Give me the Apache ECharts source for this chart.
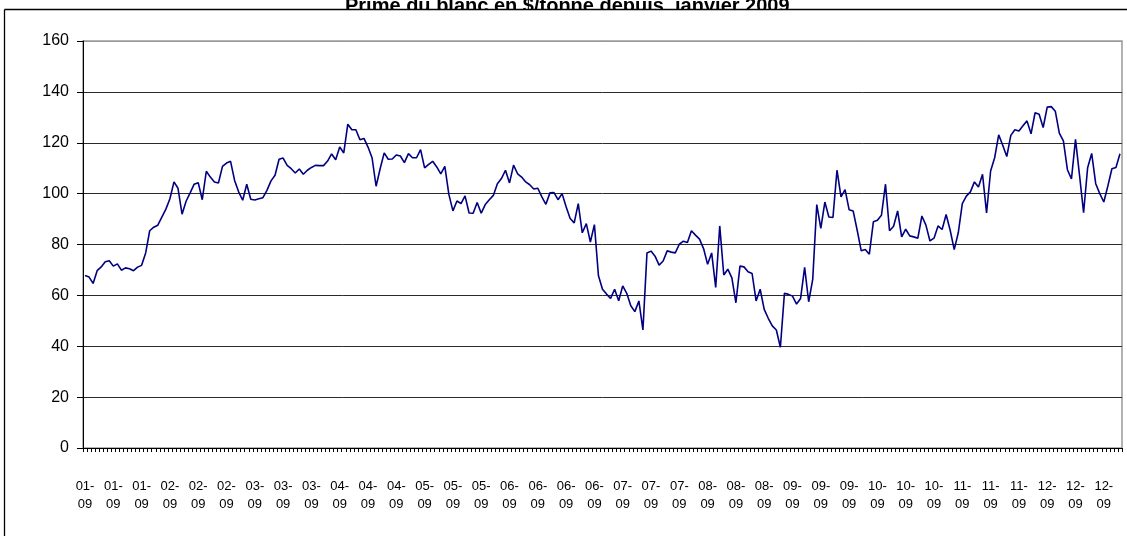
<!DOCTYPE html>
<html>
<head>
<meta charset="utf-8">
<script src="https://cdn.jsdelivr.net/npm/echarts@6/dist/echarts.min.js"></script>
<style>
html,body{margin:0;padding:0;background:#fff;}
#chart{width:1127px;height:536px;}
</style>
</head>
<body>
<div id="chart"></div>
<script>
const titleText = 'Prime du blanc en $/tonne depuis  janvier 2009';

const tickLabels = [
  '01-\n09','01-\n09','01-\n09','02-\n09','02-\n09','02-\n09','03-\n09','03-\n09','03-\n09',
  '04-\n09','04-\n09','04-\n09','05-\n09','05-\n09','05-\n09','06-\n09','06-\n09','06-\n09','06-\n09',
  '07-\n09','07-\n09','07-\n09','08-\n09','08-\n09','08-\n09','09-\n09','09-\n09','09-\n09',
  '10-\n09','10-\n09','10-\n09','11-\n09','11-\n09','11-\n09','12-\n09','12-\n09','12-\n09'
];
const labelStep = 7;

const yTicks = [0, 20, 40, 60, 80, 100, 120, 140, 160];

const premium = [
  67.8,67.2,64.7,69.7,71.2,73.2,73.6,71.5,72.4,69.9,
  70.8,70.5,69.7,71.1,71.8,76.7,85.4,86.8,87.6,90.8,
  93.9,98.0,104.6,102.1,91.9,97.0,100.3,103.7,104.3,97.6,
  108.8,106.5,104.6,104.2,110.7,112.0,112.7,105.2,100.7,97.4,
  103.7,97.8,97.5,98.0,98.4,101.3,105.0,107.2,113.5,114.0,
  111.1,109.8,108.1,109.7,107.6,109.2,110.3,111.1,111.0,111.0,
  112.8,115.6,113.3,118.3,116.0,127.3,125.1,125.1,121.2,121.7,
  118.3,114.1,102.9,109.8,116.0,113.5,113.6,115.2,114.8,112.2,
  115.7,114.1,114.1,117.3,110.1,111.5,112.7,110.5,107.8,110.7,
  99.7,93.2,97.1,96.1,99.1,92.4,92.3,96.5,92.3,95.7,
  97.6,99.3,103.9,105.9,109.2,104.2,111.2,107.8,106.5,104.6,
  103.5,101.8,102.1,98.7,95.8,100.3,100.4,97.6,100.0,94.8,
  90.2,88.5,96.1,84.6,88.2,81.0,87.8,67.7,62.4,60.5,
  58.8,62.4,57.9,63.7,60.8,55.9,53.6,57.8,46.4,76.7,
  77.4,75.4,71.9,73.5,77.5,77.0,76.7,80.1,81.3,80.8,
  85.4,83.7,82.1,78.4,72.2,76.7,63.1,87.3,68.0,70.3,
  66.9,57.1,71.5,71.2,69.3,68.6,57.8,62.4,54.5,51.0,
  48.0,46.4,39.6,60.8,60.4,59.7,56.6,58.8,71.0,57.5,
  66.3,95.7,86.3,96.7,90.8,90.6,109.2,98.7,101.6,93.7,
  93.2,85.6,77.5,78.0,76.2,88.9,89.5,91.5,103.7,85.4,
  87.2,93.2,83.0,86.0,83.4,83.0,82.5,91.2,87.6,81.4,
  82.5,87.3,85.9,91.8,85.6,78.0,84.6,96.1,99.0,100.7,
  104.6,102.6,107.6,92.4,108.9,114.1,123.1,119.0,114.6,122.9,
  125.1,124.6,126.7,128.6,123.5,131.8,131.2,126.0,134.0,134.2,
  132.4,123.8,120.7,109.4,105.8,121.3,107.2,92.5,110.2,115.8,
  103.9,100.0,96.7,103.0,109.8,110.3,115.7
];

const categories = premium.map((v, i) => (i % labelStep === 0 && tickLabels[i / labelStep]) ? tickLabels[i / labelStep] : '');

const FONT = 'Arial, "Liberation Sans", sans-serif';
const gridColors = yTicks.map((t, i) => i === yTicks.length - 1 ? '#999' : '#2a2a2a');

const chart = echarts.init(document.getElementById('chart'), null, {renderer: 'canvas'});
chart.setOption({
  animation: false,
  backgroundColor: '#fff',
  title: {
    text: titleText,
    left: 340,
    top: -9,
    textStyle: {fontFamily: FONT, fontSize: 20, fontWeight: 'bold', color: '#000'}
  },
  graphic: [
    {type: 'rect', z: 100, shape: {x: 200, y: 9.5, width: 800, height: 10}, style: {fill: '#fff'}, silent: true},
    {type: 'line', z: 101, shape: {x1: 4.5, y1: 9.5, x2: 1127, y2: 9.5}, style: {stroke: '#000', lineWidth: 1.3}, silent: true},
    {type: 'line', z: 101, shape: {x1: 4.5, y1: 9.5, x2: 4.5, y2: 536}, style: {stroke: '#000', lineWidth: 1.3}, silent: true}
  ],
  grid: {
    left: 83, right: 5, top: 41, bottom: 88,
    show: true, borderColor: '#999', borderWidth: 1.5, backgroundColor: '#fff'
  },
  xAxis: {
    type: 'category',
    data: categories,
    boundaryGap: true,
    axisLine: {lineStyle: {color: '#000', width: 1}},
    axisTick: {show: true, interval: 0, length: 4, lineStyle: {color: '#000'}},
    axisLabel: {
      interval: 0,
      margin: 29,
      fontFamily: FONT,
      fontSize: 13,
      lineHeight: 18,
      color: '#000'
    },
    splitLine: {show: false}
  },
  yAxis: {
    type: 'value',
    min: yTicks[0],
    max: yTicks[yTicks.length - 1],
    interval: yTicks[1] - yTicks[0],
    axisLine: {show: true, lineStyle: {color: '#000', width: 1}},
    axisTick: {show: true, length: 6, lineStyle: {color: '#000'}},
    axisLabel: {margin: 14, fontFamily: FONT, fontSize: 16, color: '#000'},
    splitLine: {show: true, lineStyle: {color: gridColors, width: 1}}
  },
  series: [{
    type: 'line',
    data: premium,
    symbol: 'none',
    lineStyle: {color: '#000080', width: 1.6},
    itemStyle: {color: '#000080'}
  }]
});
</script>
</body>
</html>
